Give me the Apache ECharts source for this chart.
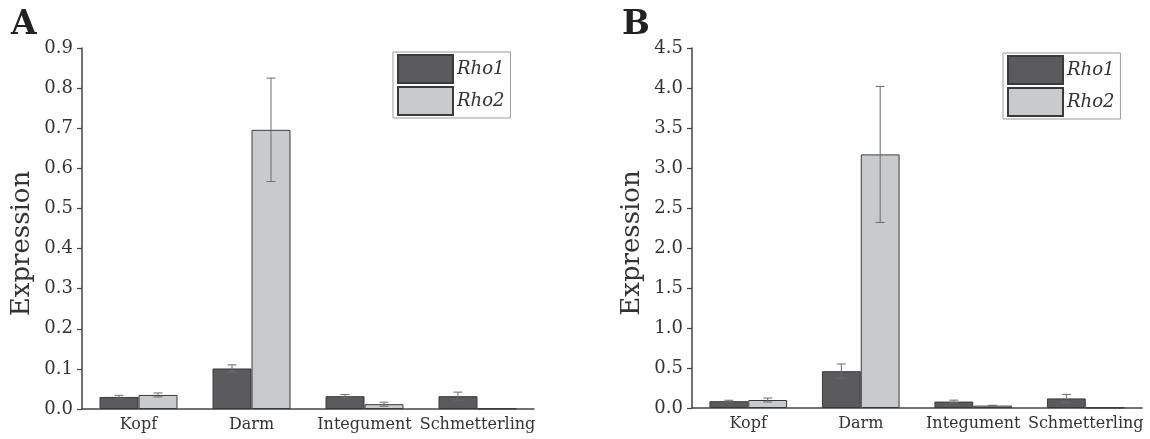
<!DOCTYPE html>
<html>
<head>
<meta charset="utf-8">
<script src="https://cdn.jsdelivr.net/npm/echarts@6/dist/echarts.min.js"></script>
<style>
html,body{margin:0;padding:0;background:#fff;}
#c{width:1150px;height:439px;}
</style>
</head>
<body>
<div id="c"></div>
<script>
const categories = ['Kopf', 'Darm', 'Integument', 'Schmetterling'];
const seriesNames = ['Rho1', 'Rho2'];

const A_rho1 = [0.030, 0.101, 0.032, 0.032];
const A_rho1_err = [0.004, 0.009, 0.004, 0.010];
const A_rho2 = [0.035, 0.696, 0.012, 0.001];
const A_rho2_err = [0.005, 0.129, 0.005, 0.0];

const B_rho1 = [0.085, 0.46, 0.08, 0.12];
const B_rho1_err = [0.012, 0.09, 0.018, 0.05];
const B_rho2 = [0.10, 3.17, 0.03, 0.005];
const B_rho2_err = [0.025, 0.85, 0.004, 0.0];

const A_ticks = {min: 0, max: 0.9, interval: 0.1};
const B_ticks = {min: 0, max: 4.5, interval: 0.5};

const FONT = 'DejaVu Serif';
const TXT = '#333';
const C1 = '#5b5b5d';
const C2 = '#c9cacc';
const GAP = 0.31;

function errSeries(gridIdx, vals, errs, side) {
  return {
    type: 'custom',
    xAxisIndex: gridIdx, yAxisIndex: gridIdx,
    silent: true, z: 5,
    data: vals.map((v, i) => [i, v, errs[i]]),
    renderItem: function (params, api) {
      const i = api.value(0), v = api.value(1), e = api.value(2);
      if (!e) return null;
      const cw = api.size([1, 0])[0];
      const bw = cw * (1 - GAP) / 2;
      const c = api.coord([i, v]);
      const x = c[0] + side * bw / 2;
      const top = api.coord([i, v + e])[1];
      const bot = api.coord([i, v - e])[1];
      const cap = 4.5;
      const st = {stroke: '#6a6a6a', lineWidth: 1, fill: null};
      return {type: 'group', children: [
        {type: 'line', shape: {x1: x, y1: top, x2: x, y2: bot}, style: st},
        {type: 'line', shape: {x1: x - cap, y1: top, x2: x + cap, y2: top}, style: st},
        {type: 'line', shape: {x1: x - cap, y1: bot, x2: x + cap, y2: bot}, style: st}
      ]};
    }
  };
}

function barSeries(gridIdx, name, vals, color) {
  return {
    type: 'bar', name: name,
    xAxisIndex: gridIdx, yAxisIndex: gridIdx,
    data: vals,
    barGap: '0%', barCategoryGap: (GAP * 100) + '%',
    itemStyle: {color: color, borderColor: '#3a3a3a', borderWidth: 1},
    emphasis: {disabled: true}
  };
}

function yAxis(gridIdx, t) {
  return {
    type: 'value', gridIndex: gridIdx,
    min: t.min, max: t.max, interval: t.interval,
    name: 'Expression', nameLocation: 'middle', nameGap: 47,
    nameTextStyle: {fontFamily: FONT, fontSize: 26, color: TXT, padding: [0, 30, 0, 0]},
    axisLine: {show: true, lineStyle: {color: '#444', width: 1.5}},
    axisTick: {show: true, length: 5, lineStyle: {color: '#444', width: 1.2}},
    axisLabel: {fontFamily: FONT, fontSize: 18, color: TXT, margin: 9,
      formatter: v => v.toFixed(1)},
    splitLine: {show: false}
  };
}

function xAxis(gridIdx) {
  return {
    type: 'category', gridIndex: gridIdx, data: categories,
    axisLine: {show: true, lineStyle: {color: '#444', width: 1.5}},
    axisTick: {show: false},
    axisLabel: {fontFamily: FONT, fontSize: 16, color: TXT, margin: 8, interval: 0}
  };
}

function legend(left, top) {
  return {
    data: seriesNames, orient: 'vertical', left: left, top: top,
    itemWidth: 55, itemHeight: 28, itemGap: 2,
    padding: [2, 6, 2, 4],
    borderColor: '#999', borderWidth: 1,
    icon: 'rect',
    selectedMode: false,
    textStyle: {fontFamily: FONT, fontStyle: 'italic', fontSize: 18, color: TXT, padding: [0, 0, 0, -1]}
  };
}

const chart = echarts.init(document.getElementById('c'), null, {renderer: 'canvas'});
chart.setOption({
  animation: false,
  backgroundColor: '#fff',
  title: [
    {text: 'A', left: 6, top: 4, textStyle: {fontFamily: FONT, fontWeight: 'bold', fontSize: 33, color: '#222'}},
    {text: 'B', left: 617, top: 4, textStyle: {fontFamily: FONT, fontWeight: 'bold', fontSize: 33, color: '#222'}}
  ],
  legend: [legend(393, 52), legend(1003, 53)],
  grid: [
    {left: 82, top: 48, width: 452, height: 361},
    {left: 692, top: 48, width: 450, height: 360}
  ],
  xAxis: [xAxis(0), xAxis(1)],
  yAxis: [yAxis(0, A_ticks), yAxis(1, B_ticks)],
  series: [
    barSeries(0, seriesNames[0], A_rho1, C1),
    barSeries(0, seriesNames[1], A_rho2, C2),
    barSeries(1, seriesNames[0], B_rho1, C1),
    barSeries(1, seriesNames[1], B_rho2, C2),
    errSeries(0, A_rho1, A_rho1_err, -1),
    errSeries(0, A_rho2, A_rho2_err, 1),
    errSeries(1, B_rho1, B_rho1_err, -1),
    errSeries(1, B_rho2, B_rho2_err, 1)
  ]
});
</script>
</body>
</html>
